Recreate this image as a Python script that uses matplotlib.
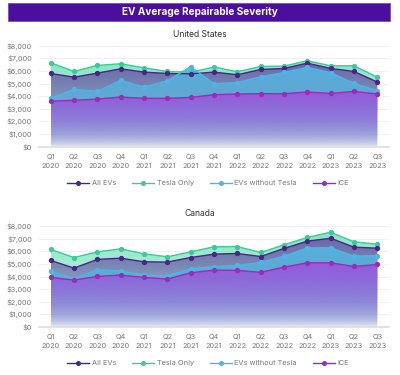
import numpy as np
import matplotlib.pyplot as plt
from matplotlib.patches import Rectangle, Polygon
from matplotlib.lines import Line2D

plt.rcParams['font.family'] = ['Inter', 'DejaVu Sans']

# =========================
# DATA
# =========================
quarters = ["Q1\n2020", "Q2\n2020", "Q3\n2020", "Q4\n2020",
            "Q1\n2021", "Q2\n2021", "Q3\n2021", "Q4\n2021",
            "Q1\n2022", "Q2\n2022", "Q3\n2022", "Q4\n2022",
            "Q1\n2023", "Q2\n2023", "Q3\n2023"]

us_all_evs = [5800, 5510, 5830, 6170, 5910, 5800, 5770, 5910, 5700, 6120, 6200, 6620, 6200, 5960, 5120]
us_tesla = [6650, 5960, 6440, 6570, 6250, 5960, 5900, 6310, 5940, 6360, 6390, 6810, 6410, 6410, 5510]
us_no_tesla = [3830, 4540, 4380, 5250, 4720, 5220, 6340, 4990, 5070, 5540, 5880, 6280, 5860, 5010, 4430]
us_ice = [3610, 3670, 3770, 3930, 3830, 3830, 3900, 4120, 4170, 4200, 4200, 4330, 4220, 4380, 4170]

ca_all_evs = [5280, 4670, 5360, 5460, 5170, 5150, 5510, 5780, 5830, 5590, 6230, 6810, 7040, 6330, 6250]
ca_tesla = [6150, 5510, 5960, 6200, 5800, 5570, 5960, 6360, 6380, 5910, 6520, 7100, 7520, 6750, 6570]
ca_no_tesla = [4430, 3830, 4540, 4430, 4120, 4040, 4620, 4780, 4880, 5120, 5620, 6280, 6280, 5620, 5670]
ca_ice = [3930, 3720, 4010, 4120, 3930, 3800, 4300, 4510, 4490, 4330, 4750, 5090, 5090, 4800, 4960]

series_names = ["All EVs", "Tesla Only", "EVs without Tesla", "ICE"]
line_colors = ["#4a2488", "#3fc89c", "#4db6e6", "#9a2cb8"]
fill_colors = ["#6a62a8", "#7fe6c0", "#55b4e0", "#9a55dc"]

# draw order: Tesla at the back, ICE at the front
draw_order = [1, 0, 2, 3]


def gradient_area(ax, x, y, color, top_alpha, z):
    ymax = max(y)
    verts = [(x[0], 0)] + list(zip(x, y)) + [(x[-1], 0)]
    poly = Polygon(verts, closed=True, facecolor="none", edgecolor="none")
    ax.add_patch(poly)
    rgb = np.array(plt.matplotlib.colors.to_rgb(color))
    n = 256
    grad = np.zeros((n, 1, 4))
    grad[:, 0, :3] = rgb
    t = np.linspace(1, 0, n)
    grad[:, 0, 3] = 0.03 + (top_alpha - 0.03) * t ** 0.75
    im = ax.imshow(grad, aspect="auto", extent=[x[0], x[-1], 0, ymax],
                   origin="upper", zorder=z)
    im.set_clip_path(poly)


def draw_panel(ax, data):
    x = np.arange(len(quarters))
    for k, i in enumerate(draw_order):
        gradient_area(ax, x, data[i], fill_colors[i], 0.95, 1 + k * 0.1)
    for i in draw_order:
        ax.plot(x, data[i], color=line_colors[i], lw=1.0, marker="o",
                ms=2.8, zorder=5)
    ax.set_xlim(-0.5, len(quarters) - 0.5)
    ax.set_ylim(0, 8000)
    ax.set_yticks(range(0, 8001, 1000))
    ax.set_yticklabels(["${:,}".format(v) for v in range(0, 8001, 1000)])
    ax.set_xticks(x)
    ax.set_xticklabels(quarters, linespacing=1.6)
    ax.tick_params(length=0, labelsize=5.3, colors="#777777", pad=5)
    ax.tick_params(axis="y", pad=5)
    ax.grid(axis="y", color="#eeeeee", lw=0.6)
    ax.set_axisbelow(True)
    for s in ["top", "right", "left"]:
        ax.spines[s].set_visible(False)
    ax.spines["bottom"].set_color("#dddddd")
    ax.spines["bottom"].set_linewidth(1.2)


fig = plt.figure(figsize=(4, 3.75), dpi=100)

# title banner
fig.patches.append(Rectangle((0.02, 0.944), 0.955, 0.048, transform=fig.transFigure,
                             facecolor="#4b0f9d", edgecolor="#7a4cc0", lw=0.6))
fig.text(0.5, 0.968, "EV Average Repairable Severity", ha="center", va="center",
         color="white", fontsize=7.2, fontweight="bold")

ax1 = fig.add_axes([0.0975, 0.609, 0.875, 0.269])
draw_panel(ax1, [us_all_evs, us_tesla, us_no_tesla, us_ice])
fig.text(0.5, 0.907, "United States", ha="center", va="center",
         fontsize=6.2, color="#333333")

ax2 = fig.add_axes([0.0975, 0.128, 0.875, 0.269])
draw_panel(ax2, [ca_all_evs, ca_tesla, ca_no_tesla, ca_ice])
fig.text(0.5, 0.43, "Canada", ha="center", va="center",
         fontsize=6.2, color="#333333")

handles = [Line2D([], [], color=c, marker="o", ms=2.6, lw=1.0) for c in line_colors]
for yy in [0.512, 0.032]:
    fig.legend(handles, series_names, loc="center", bbox_to_anchor=(0.52, yy),
               ncol=4, frameon=False, fontsize=5.3, labelcolor="#777777",
               handlelength=3.0, columnspacing=2.2, handletextpad=0.3)

fig.savefig("out.png", dpi=100)
